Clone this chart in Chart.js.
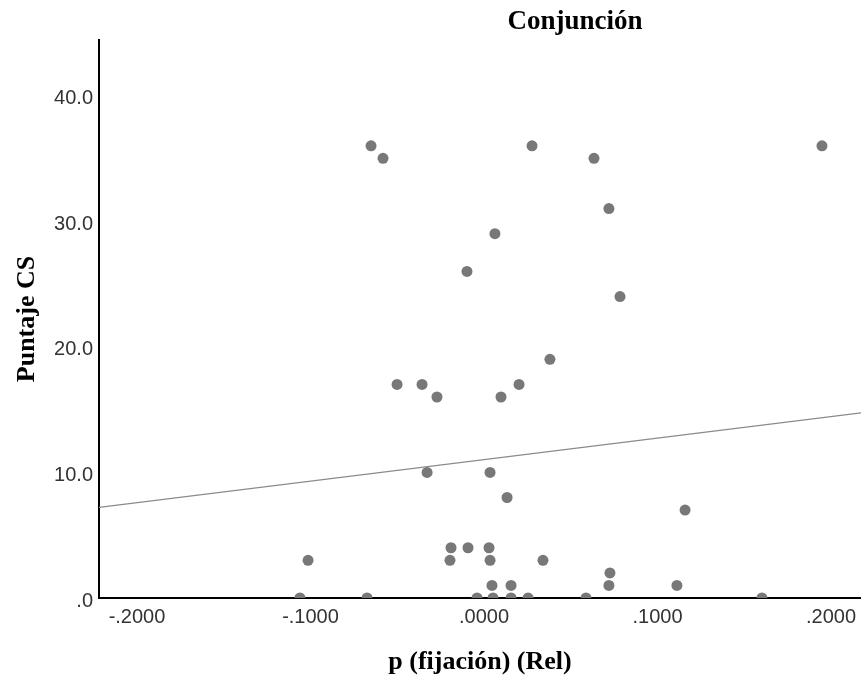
<!DOCTYPE html>
<html>
<head>
<meta charset="utf-8">
<script src="https://cdn.jsdelivr.net/npm/chart.js@4.4.1/dist/chart.umd.min.js"></script>
<style>
html,body{margin:0;padding:0;background:#fff;overflow:hidden}
#wrap{width:861px;height:679px;position:relative}
</style>
</head>
<body>
<div id="wrap"><canvas id="c"></canvas></div>
<script>
// ---- data ----
const pFijacion = [
  -0.0651, -0.0582, 0.0277, 0.0634, 0.1948,
  0.0720, 0.0063, -0.0098, 0.0784, 0.0380,
  -0.0501, -0.0357, -0.0271, 0.0098, 0.0202,
  -0.0328, 0.0035, 0.0133, 0.1159,
  -0.1014, -0.0190, -0.0092, 0.0029, -0.0196, 0.0035, 0.0340,
  0.0726, 0.0720, 0.1112, 0.0046, 0.0156,
  -0.1061, -0.0674, -0.0040, 0.0052, 0.0156, 0.0254, 0.0588, 0.1602
];
const puntajeCS = [
  36, 35, 36, 35, 36,
  31, 29, 26, 24, 19,
  17, 17, 16, 16, 17,
  10, 10, 8, 7,
  3, 4, 4, 4, 3, 3, 3,
  2, 1, 1, 1, 1,
  0, 0, 0, 0, 0, 0, 0, 0
];
// fit line (read at the plot edges)
const fitX = [-0.2219, 0.2173];
const fitY = [7.22, 14.74];

const xTickValues = [-0.2, -0.1, 0, 0.1, 0.2];
const xTickLabels = ['-.2000', '-.1000', '.0000', '.1000', '.2000'];
const yTickValues = [0, 10, 20, 30, 40];
const yTickLabels = ['.0', '10.0', '20.0', '30.0', '40.0'];

const chartTitle = 'Conjunción';
const xTitle = 'p (fijación) (Rel)';
const yTitle = 'Puntaje CS';

const xMin = -0.2219, xMax = 0.2173;
const yMin = 0, yMax = 44.42;

// ---- chart ----
const points = pFijacion.map((x, i) => ({x: x, y: puntajeCS[i]}));
const fitLine = fitX.map((x, i) => ({x: x, y: fitY[i]}));

const titlePlugin = {
  id: 'topTitle',
  afterDraw(chart) {
    const ctx = chart.ctx;
    ctx.save();
    ctx.font = 'bold 27px "Liberation Serif"';
    ctx.fillStyle = '#000';
    ctx.textAlign = 'center';
    ctx.textBaseline = 'middle';
    ctx.fillText(chartTitle, 575, 22);
    ctx.restore();
  }
};

const tickFont = {family: '"Liberation Sans", Arial, sans-serif', size: 20};
const titleFont = {family: '"Liberation Serif", "Times New Roman", serif', size: 26, weight: 'bold'};

new Chart(document.getElementById('c'), {
  type: 'scatter',
  data: {
    datasets: [
      {
        type: 'line',
        data: fitLine,
        borderColor: '#8a8a8a',
        borderWidth: 1.3,
        pointRadius: 0,
        fill: false,
        order: 2
      },
      {
        data: points,
        backgroundColor: '#787878',
        borderWidth: 0,
        pointRadius: 5.5,
        order: 1
      }
    ]
  },
  options: {
    responsive: true,
    maintainAspectRatio: false,
    animation: false,
    layout: {autoPadding: false, padding: {top: 40, right: 0, left: 0, bottom: 0}},
    plugins: {legend: {display: false}, tooltip: {enabled: false}, title: {display: false}},
    scales: {
      x: {
        type: 'linear',
        min: xMin, max: xMax,
        afterFit(s) { s.height = 81; s.paddingLeft = 0; s.paddingRight = 0; },
        afterBuildTicks(s) { s.ticks = xTickValues.map(v => ({value: v})); },
        grid: {display: false, drawTicks: false},
        border: {display: true, color: '#000', width: 2},
        ticks: {
          font: tickFont, color: '#333', padding: 7, maxRotation: 0,
          callback: (v) => { const i = xTickValues.findIndex(t => Math.abs(t - v) < 1e-9); return i >= 0 ? xTickLabels[i] : ''; }
        },
        title: {display: true, text: xTitle, font: titleFont, color: '#000', padding: {top: 0, bottom: 1}}
      },
      y: {
        type: 'linear',
        min: yMin, max: yMax,
        afterFit(s) { s.width = 99; s.paddingTop = 0; s.paddingBottom = 0; },
        afterBuildTicks(s) { s.ticks = yTickValues.map(v => ({value: v})); },
        grid: {display: false, drawTicks: false},
        border: {display: true, color: '#000', width: 2},
        ticks: {
          font: tickFont, color: '#333', padding: 6, labelOffset: 3,
          callback: (v) => { const i = yTickValues.findIndex(t => Math.abs(t - v) < 1e-9); return i >= 0 ? yTickLabels[i] : ''; }
        },
        title: {display: true, text: yTitle, font: titleFont, color: '#000', padding: {top: 12, bottom: 0}}
      }
    }
  },
  plugins: [titlePlugin]
});
</script>
</body>
</html>
